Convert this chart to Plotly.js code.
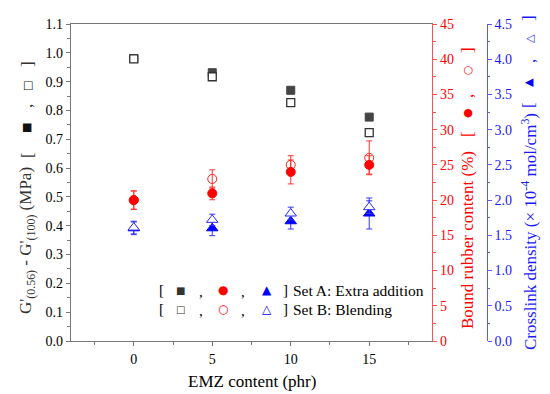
<!DOCTYPE html>
<html>
<head>
<meta charset="utf-8">
<script src="https://cdn.plot.ly/plotly-3.0.1.min.js"></script>
</head>
<body style="margin:0">
<div id="chart"></div>
<script>
// EMZ content (phr)
const emz = [0, 5, 10, 15];
// G'(0.56) - G'(100) (MPa)
const gA = [0.980, 0.931, 0.870, 0.777];
const gB = [0.979, 0.917, 0.827, 0.723];
// Bound rubber content (%)
const brA = [20.0, 20.95, 24.0, 25.0];
const brAerr = [1.3, 0.9, 1.7, 1.3];
const brB = [20.0, 23.0, 25.0, 26.0];
const brBerr = [1.3, 1.3, 1.3, 2.4];
// Crosslink density (x10^-4 mol/cm3)
const cdA = [1.60, 1.60, 1.70, 1.81];
const cdAerr = [0.09, 0.105, 0.11, 0.22];
const cdB = [1.61, 1.72, 1.81, 1.90];
const cdBerr = [0.09, 0.08, 0.09, 0.09];

const xTicks = [0, 5, 10, 15];

const FONT = 'Liberation Serif';
const SYM = 'DejaVu Sans';
const W = 550, H = 394, ML = 71, MR = 60, MT = 24, MB = 53;
const PW = W - ML - MR, PH = H - MT - MB;
const px = v => (v - ML) / PW;
const py = v => (MT + PH - v) / PH;

const traces = [
  {x: emz, y: gA, type: 'scatter', mode: 'markers', xaxis: 'x', yaxis: 'y',
   marker: {symbol: 'square', size: 8, color: '#444444', line: {color: '#444444', width: 1}}},
  {x: emz, y: gB, type: 'scatter', mode: 'markers', xaxis: 'x', yaxis: 'y',
   marker: {symbol: 'square', size: 8, color: '#ffffff', line: {color: '#333333', width: 1.3}}},
  {x: emz, y: brB, type: 'scatter', mode: 'markers', xaxis: 'x', yaxis: 'y2',
   error_y: {type: 'data', array: brBerr, visible: true, color: '#ff3333', thickness: 1, width: 3},
   marker: {symbol: 'circle', size: 9, color: 'rgba(255,255,255,0)', line: {color: '#ff2020', width: 1}}},
  {x: emz, y: brA, type: 'scatter', mode: 'markers', xaxis: 'x', yaxis: 'y2',
   error_y: {type: 'data', array: brAerr, visible: true, color: '#ff3333', thickness: 1, width: 3},
   marker: {symbol: 'circle', size: 9, color: '#ff0000', line: {color: '#ff0000', width: 1}}},
  {x: emz, y: cdA, type: 'scatter', mode: 'markers', xaxis: 'x', yaxis: 'y3',
   error_y: {type: 'data', array: cdAerr, visible: true, color: '#3333ff', thickness: 1, width: 3},
   marker: {symbol: 'triangle-up', size: 10, color: '#0000ff', line: {color: '#0000ff', width: 1}}},
  {x: emz, y: cdB, type: 'scatter', mode: 'markers', xaxis: 'x', yaxis: 'y3',
   error_y: {type: 'data', array: cdBerr, visible: true, color: '#3333ff', thickness: 1, width: 3},
   marker: {symbol: 'triangle-up', size: 10, color: '#ffffff', line: {color: '#2a2aff', width: 1}}}
];

const annotations = [];
function ann(text, x, y, opts) {
  annotations.push(Object.assign({text: text, x: px(x), y: py(y), xref: 'paper', yref: 'paper',
    xanchor: 'center', yanchor: 'middle',
    showarrow: false, font: {family: FONT, size: 16, color: '#000'}}, opts || {}));
}

// rotated axis titles: main text + bracketed symbol key
function vtitle(x, main, mainY, color, parts) {
  ann(main, x, mainY, {textangle: -90, font: {family: FONT, size: 17, color: color}});
  parts.forEach(p => {
    const isSym = p.sym;
    ann(p.t, x + (p.dx || 0), p.y, {textangle: -90,
      font: {family: isSym ? SYM : FONT, size: isSym ? (p.s || 11) : 17, color: p.c || color}});
  });
}
vtitle(27, "G'<sub>(0.56)</sub> - G'<sub>(100)</sub> (MPa)", 241, '#333333', [
  {t: '[', y: 155}, {t: '■', y: 128, sym: true, s: 11, c: '#111111'}, {t: ',', y: 106},
  {t: '□', y: 86, sym: true, s: 11, c: '#222222'}, {t: ']', y: 64}
]);
vtitle(467, "Bound rubber content (%)", 240, '#ff0000', [
  {t: '[', y: 134}, {t: '●', y: 113, sym: true, s: 11}, {t: ',', y: 96},
  {t: '○', y: 70, sym: true, s: 11}, {t: ']', y: 50}
]);
vtitle(529, "Crosslink density (× 10<sup>-4</sup> mol/cm<sup>3</sup>)", 232, '#1a1aff', [
  {t: '[', y: 105}, {t: '▲', y: 83, sym: true, s: 11, c: '#0000ff'}, {t: ',', y: 61},
  {t: '△', y: 39, sym: true, s: 11, c: '#3333ff'}, {t: ']', y: 18}
]);
ann("EMZ content (phr)", 251.5, 381.5, {font: {family: FONT, size: 17, color: '#000'}});

// legend
const legRows = [
  {y: 290, sq: '■', ci: '●', tr: '▲', label: 'Set A: Extra addition'},
  {y: 309, sq: '□', ci: '○', tr: '△', label: 'Set B: Blending'}
];
legRows.forEach(r => {
  ann('[', 161, r.y, {font: {family: FONT, size: 15, color: '#000'}});
  ann(r.sq, 180.7, r.y, {font: {family: SYM, size: 10, color: '#333333'}});
  ann(',', 201, r.y + 2, {font: {family: FONT, size: 15, color: '#000'}});
  ann(r.ci, 223.3, r.y, {font: {family: SYM, size: 12, color: '#ff0000'}});
  ann(',', 243, r.y + 2, {font: {family: FONT, size: 15, color: '#000'}});
  ann(r.tr, 266.7, r.y, {font: {family: SYM, size: 12, color: '#0000ff'}});
  ann(']', 285, r.y, {font: {family: FONT, size: 15, color: '#000'}});
  ann(r.label, 291, r.y, {xanchor: 'left', font: {family: FONT, size: 15.5, color: '#000'}});
});

const layout = {
  width: W, height: H,
  margin: {l: ML, r: MR, t: MT, b: MB, pad: 0},
  paper_bgcolor: '#ffffff', plot_bgcolor: '#ffffff',
  showlegend: false,
  xaxis: {
    domain: [0, (432 - ML) / PW], range: [-4, 19],
    tickvals: xTicks, ticktext: xTicks.map(String),
    showgrid: false, zeroline: false, showline: true, linecolor: '#777777', linewidth: 1.2,
    mirror: true, ticks: 'outside', ticklen: 4, tickcolor: '#777777',
    minor: {dtick: 2.5, tick0: 2.5, ticks: 'outside', ticklen: 2.5, tickcolor: '#777777', showgrid: false},
    tickfont: {family: FONT, size: 14, color: '#000'}, ticklabelstandoff: 1
  },
  yaxis: {
    range: [0, 1.1], dtick: 0.1, tickformat: '.1f',
    showgrid: false, zeroline: false, showline: true, linecolor: '#777777', linewidth: 1.2,
    ticks: 'outside', ticklen: 4, tickcolor: '#777777',
    minor: {dtick: 0.05, ticks: 'outside', ticklen: 2.5, tickcolor: '#777777', showgrid: false},
    tickfont: {family: FONT, size: 14, color: '#000'}
  },
  yaxis2: {
    overlaying: 'y', side: 'right', anchor: 'x',
    range: [0, 45], dtick: 5,
    showgrid: false, zeroline: false, showline: true, linecolor: '#ff5050', linewidth: 1.2,
    ticks: 'outside', ticklen: 4, tickcolor: '#ff5050',
    minor: {dtick: 2.5, ticks: 'outside', ticklen: 2.5, tickcolor: '#ff5050', showgrid: false},
    tickfont: {family: FONT, size: 14, color: '#ff0000'}
  },
  yaxis3: {
    overlaying: 'y', side: 'right', anchor: 'free', position: px(486.7),
    range: [0, 4.5], dtick: 0.5, tickformat: '.1f',
    showgrid: false, zeroline: false, showline: true, linecolor: '#5a5aff', linewidth: 1.2,
    ticks: 'outside', ticklen: 4, tickcolor: '#5a5aff',
    minor: {dtick: 0.25, ticks: 'outside', ticklen: 2.5, tickcolor: '#5a5aff', showgrid: false},
    tickfont: {family: FONT, size: 14, color: '#1a1aff'}
  },
  annotations: annotations
};

Plotly.newPlot('chart', traces, layout, {displayModeBar: false});
</script>
</body>
</html>
